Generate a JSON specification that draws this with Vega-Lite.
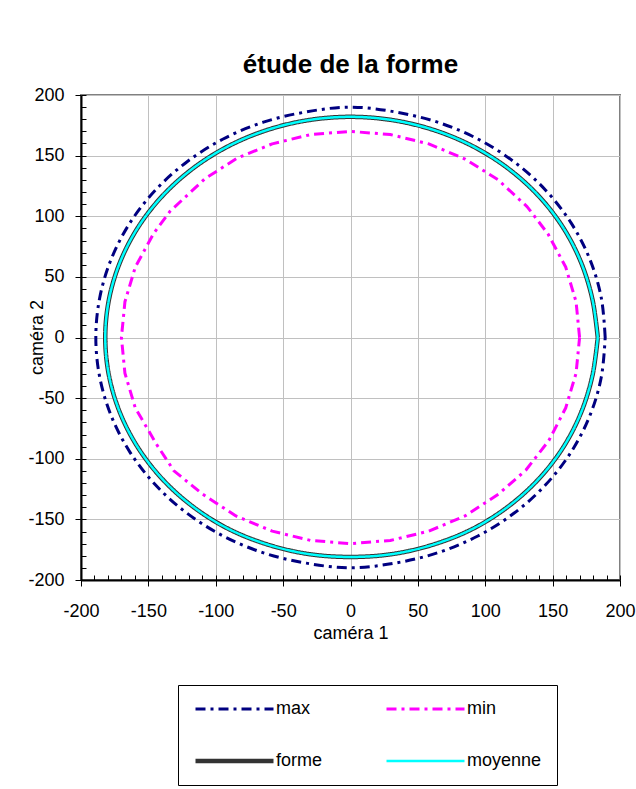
{
  "$schema": "https://vega.github.io/schema/vega-lite/v6.json",
  "width": 539,
  "height": 485,
  "autosize": {"type": "none"},
  "padding": {"left": 81, "top": 95, "right": 16, "bottom": 209},
  "background": "#ffffff",
  "title": {"text": "étude de la forme", "font": "Liberation Sans", "fontSize": 26, "fontWeight": "bold", "color": "#000000", "anchor": "middle", "frame": "group", "baseline": "alphabetic", "offset": -13},
  "config": {
    "view": {"stroke": "#808080", "strokeWidth": 2},
    "font": "Liberation Sans",
    "axis": {"labelFont": "Liberation Sans", "labelFontSize": 18, "labelColor": "#000000", "titleFont": "Liberation Sans", "titleFontSize": 18, "titleFontWeight": "normal", "titleColor": "#000000", "tickColor": "#000000", "domainColor": "#000000"},
    "legend": {"orient": "none", "legendX": 97, "legendY": 590, "columns": 2, "symbolType": "stroke", "symbolSize": 6084, "labelFont": "Liberation Sans", "labelFontSize": 18, "labelColor": "#000000", "labelOffset": 0, "columnPadding": 61, "rowPadding": 34, "clipHeight": 18, "padding": 15, "strokeColor": "#000000", "fillColor": "#ffffff", "labelLimit": 200}
  },
  "datasets": {"curves": [
    {"s":"max","i":0,"x":189,"y":0},{"s":"max","i":1,"x":186.1,"y":32.8},{"s":"max","i":2,"x":177.6,"y":64.6},{"s":"max","i":3,"x":163.7,"y":94.5},{"s":"max","i":4,"x":144.8,"y":121.5},{"s":"max","i":5,"x":121.5,"y":144.8},{"s":"max","i":6,"x":94.5,"y":163.7},{"s":"max","i":7,"x":64.6,"y":177.6},{"s":"max","i":8,"x":32.8,"y":186.1},{"s":"max","i":9,"x":0,"y":190},
    {"s":"max","i":10,"x":-32.8,"y":186.1},{"s":"max","i":11,"x":-64.6,"y":177.6},{"s":"max","i":12,"x":-94.5,"y":163.7},{"s":"max","i":13,"x":-121.5,"y":144.8},{"s":"max","i":14,"x":-144.8,"y":121.5},{"s":"max","i":15,"x":-163.7,"y":94.5},{"s":"max","i":16,"x":-177.6,"y":64.6},{"s":"max","i":17,"x":-186.1,"y":32.8},{"s":"max","i":18,"x":-189,"y":0},
    {"s":"max","i":19,"x":-186.1,"y":-32.8},{"s":"max","i":20,"x":-177.6,"y":-64.6},{"s":"max","i":21,"x":-163.7,"y":-94.5},{"s":"max","i":22,"x":-144.8,"y":-121.5},{"s":"max","i":23,"x":-121.5,"y":-144.8},{"s":"max","i":24,"x":-94.5,"y":-163.7},{"s":"max","i":25,"x":-64.6,"y":-177.6},{"s":"max","i":26,"x":-32.8,"y":-186.1},{"s":"max","i":27,"x":0,"y":-190},
    {"s":"max","i":28,"x":32.8,"y":-186.1},{"s":"max","i":29,"x":64.6,"y":-177.6},{"s":"max","i":30,"x":94.5,"y":-163.7},{"s":"max","i":31,"x":121.5,"y":-144.8},{"s":"max","i":32,"x":144.8,"y":-121.5},{"s":"max","i":33,"x":163.7,"y":-94.5},{"s":"max","i":34,"x":177.6,"y":-64.6},{"s":"max","i":35,"x":186.1,"y":-32.8},{"s":"max","i":36,"x":189,"y":0},

    {"s":"min","i":0,"x":170,"y":0},{"s":"min","i":1,"x":167.4,"y":29.5},{"s":"min","i":2,"x":159.7,"y":58.1},{"s":"min","i":3,"x":146.5,"y":85.5},{"s":"min","i":4,"x":131,"y":108},{"s":"min","i":5,"x":109.3,"y":130.2},{"s":"min","i":6,"x":85,"y":147.2},{"s":"min","i":7,"x":58.1,"y":159.7},{"s":"min","i":8,"x":29.5,"y":167.4},{"s":"min","i":9,"x":0,"y":170},
    {"s":"min","i":10,"x":-29.5,"y":167.4},{"s":"min","i":11,"x":-58.1,"y":159.7},{"s":"min","i":12,"x":-84,"y":148},{"s":"min","i":13,"x":-108,"y":131},{"s":"min","i":14,"x":-134,"y":104},{"s":"min","i":15,"x":-146,"y":86},{"s":"min","i":16,"x":-159.7,"y":58.1},{"s":"min","i":17,"x":-167.4,"y":29.5},{"s":"min","i":18,"x":-170,"y":0},
    {"s":"min","i":19,"x":-167.4,"y":-29.5},{"s":"min","i":20,"x":-159.7,"y":-58.1},{"s":"min","i":21,"x":-144,"y":-88},{"s":"min","i":22,"x":-131,"y":-110},{"s":"min","i":23,"x":-110,"y":-129},{"s":"min","i":24,"x":-85,"y":-147.2},{"s":"min","i":25,"x":-58.1,"y":-159.7},{"s":"min","i":26,"x":-29.5,"y":-167.4},{"s":"min","i":27,"x":0,"y":-170},
    {"s":"min","i":28,"x":29.5,"y":-167.4},{"s":"min","i":29,"x":58.1,"y":-159.7},{"s":"min","i":30,"x":85,"y":-147.2},{"s":"min","i":31,"x":110,"y":-129},{"s":"min","i":32,"x":130.2,"y":-109.3},{"s":"min","i":33,"x":147.2,"y":-85},{"s":"min","i":34,"x":159.7,"y":-58.1},{"s":"min","i":35,"x":167.4,"y":-29.5},{"s":"min","i":36,"x":170,"y":0},

    {"s":"forme","i":0,"x":183.5,"y":0},{"s":"forme","i":1,"x":179.5,"y":31.6},{"s":"forme","i":2,"x":171,"y":62.2},{"s":"forme","i":3,"x":157.6,"y":91},{"s":"forme","i":4,"x":139.4,"y":117},{"s":"forme","i":5,"x":117,"y":139.4},{"s":"forme","i":6,"x":91,"y":157.6},{"s":"forme","i":7,"x":62.2,"y":171},{"s":"forme","i":8,"x":31.6,"y":179.2},{"s":"forme","i":9,"x":0,"y":182},
    {"s":"forme","i":10,"x":-31.6,"y":179.2},{"s":"forme","i":11,"x":-62.2,"y":171},{"s":"forme","i":12,"x":-91,"y":157.6},{"s":"forme","i":13,"x":-117,"y":139.4},{"s":"forme","i":14,"x":-139.4,"y":117},{"s":"forme","i":15,"x":-157.6,"y":91},{"s":"forme","i":16,"x":-171,"y":62.2},{"s":"forme","i":17,"x":-179.2,"y":31.6},{"s":"forme","i":18,"x":-182,"y":0},
    {"s":"forme","i":19,"x":-179.2,"y":-31.6},{"s":"forme","i":20,"x":-171,"y":-62.2},{"s":"forme","i":21,"x":-157.6,"y":-91},{"s":"forme","i":22,"x":-139.4,"y":-117},{"s":"forme","i":23,"x":-117,"y":-139.4},{"s":"forme","i":24,"x":-91,"y":-157.6},{"s":"forme","i":25,"x":-62.2,"y":-170.5},{"s":"forme","i":26,"x":-31.6,"y":-178.5},{"s":"forme","i":27,"x":0,"y":-181},
    {"s":"forme","i":28,"x":31.6,"y":-178.5},{"s":"forme","i":29,"x":62.2,"y":-170.5},{"s":"forme","i":30,"x":91,"y":-157.6},{"s":"forme","i":31,"x":117,"y":-139.4},{"s":"forme","i":32,"x":139.4,"y":-117},{"s":"forme","i":33,"x":157.6,"y":-91},{"s":"forme","i":34,"x":171,"y":-62.2},{"s":"forme","i":35,"x":179.5,"y":-31.6},{"s":"forme","i":36,"x":183.5,"y":0},

    {"s":"moyenne","i":0,"x":183.5,"y":0},{"s":"moyenne","i":1,"x":179.5,"y":31.6},{"s":"moyenne","i":2,"x":171,"y":62.2},{"s":"moyenne","i":3,"x":157.6,"y":91},{"s":"moyenne","i":4,"x":139.4,"y":117},{"s":"moyenne","i":5,"x":117,"y":139.4},{"s":"moyenne","i":6,"x":91,"y":157.6},{"s":"moyenne","i":7,"x":62.2,"y":171},{"s":"moyenne","i":8,"x":31.6,"y":179.2},{"s":"moyenne","i":9,"x":0,"y":182},
    {"s":"moyenne","i":10,"x":-31.6,"y":179.2},{"s":"moyenne","i":11,"x":-62.2,"y":171},{"s":"moyenne","i":12,"x":-91,"y":157.6},{"s":"moyenne","i":13,"x":-117,"y":139.4},{"s":"moyenne","i":14,"x":-139.4,"y":117},{"s":"moyenne","i":15,"x":-157.6,"y":91},{"s":"moyenne","i":16,"x":-171,"y":62.2},{"s":"moyenne","i":17,"x":-179.2,"y":31.6},{"s":"moyenne","i":18,"x":-182,"y":0},
    {"s":"moyenne","i":19,"x":-179.2,"y":-31.6},{"s":"moyenne","i":20,"x":-171,"y":-62.2},{"s":"moyenne","i":21,"x":-157.6,"y":-91},{"s":"moyenne","i":22,"x":-139.4,"y":-117},{"s":"moyenne","i":23,"x":-117,"y":-139.4},{"s":"moyenne","i":24,"x":-91,"y":-157.6},{"s":"moyenne","i":25,"x":-62.2,"y":-170.5},{"s":"moyenne","i":26,"x":-31.6,"y":-178.5},{"s":"moyenne","i":27,"x":0,"y":-181},
    {"s":"moyenne","i":28,"x":31.6,"y":-178.5},{"s":"moyenne","i":29,"x":62.2,"y":-170.5},{"s":"moyenne","i":30,"x":91,"y":-157.6},{"s":"moyenne","i":31,"x":117,"y":-139.4},{"s":"moyenne","i":32,"x":139.4,"y":-117},{"s":"moyenne","i":33,"x":157.6,"y":-91},{"s":"moyenne","i":34,"x":171,"y":-62.2},{"s":"moyenne","i":35,"x":179.5,"y":-31.6},{"s":"moyenne","i":36,"x":183.5,"y":0}
  ]},
  "data": {"name": "curves"},
  "encoding": {
    "x": {"field": "x", "type": "quantitative", "scale": {"domain": [-200, 200], "nice": false, "zero": false}, "axis": null},
    "y": {"field": "y", "type": "quantitative", "scale": {"domain": [-200, 200], "nice": false, "zero": false}, "axis": null},
    "order": {"field": "i", "type": "quantitative"},
    "color": {"field": "s", "type": "nominal", "title": null, "scale": {"domain": ["max", "forme", "min", "moyenne"], "range": ["#000080", "#333333", "#ff00ff", "#00ffff"]}},
    "strokeDash": {"field": "s", "type": "nominal", "title": null, "scale": {"domain": ["max", "forme", "min", "moyenne"], "range": [[10, 5, 3, 5], [1, 0], [10, 5, 3, 5], [1, 0]]}},
    "strokeWidth": {"field": "s", "type": "nominal", "title": null, "scale": {"type": "ordinal", "domain": ["max", "forme", "min", "moyenne"], "range": [3, 4.5, 3, 2.5]}}
  },
  "layer": [
    {
      "transform": [{"filter": "datum.s === 'max'"}],
      "mark": {"type": "line", "strokeCap": "butt", "strokeJoin": "round", "interpolate": "cardinal"},
      "encoding": {
        "x": {"field": "x", "type": "quantitative",
          "axis": {"orient": "bottom", "values": [-200,-190,-180,-170,-160,-150,-140,-130,-120,-110,-100,-90,-80,-70,-60,-50,-40,-30,-20,-10,0,10,20,30,40,50,60,70,80,90,100,110,120,130,140,150,160,170,180,190,200], "tickSize": -5, "labels": false, "domain": false, "grid": false, "title": null}},
        "y": {"field": "y", "type": "quantitative",
          "axis": {"orient": "left", "values": [-200,-190,-180,-170,-160,-150,-140,-130,-120,-110,-100,-90,-80,-70,-60,-50,-40,-30,-20,-10,0,10,20,30,40,50,60,70,80,90,100,110,120,130,140,150,160,170,180,190,200], "tickSize": -5, "labels": false, "domain": false, "grid": false, "title": null}}
      }
    },
    {
      "transform": [{"filter": "datum.s === 'min'"}],
      "mark": {"type": "line", "strokeCap": "butt", "strokeJoin": "round"}
    },
    {
      "transform": [{"filter": "datum.s === 'forme'"}],
      "mark": {"type": "line", "strokeCap": "butt", "strokeJoin": "round", "interpolate": "cardinal"}
    },
    {
      "transform": [{"filter": "datum.s === 'moyenne'"}],
      "mark": {"type": "line", "strokeCap": "butt", "strokeJoin": "round", "interpolate": "cardinal"},
      "encoding": {
        "x": {"field": "x", "type": "quantitative",
          "axis": {"orient": "bottom", "values": [-200,-150,-100,-50,0,50,100,150,200], "labelExpr": "'' + datum.value", "tickSize": 6, "domainWidth": 2, "grid": true, "gridColor": "#c0c0c0", "gridWidth": 1, "gridOpacity": 1, "labelPadding": 16, "labelFlush": false, "labelOverlap": false, "title": "caméra 1", "titlePadding": 4}},
        "y": {"field": "y", "type": "quantitative",
          "axis": {"orient": "left", "values": [-200,-150,-100,-50,0,50,100,150,200], "labelExpr": "'' + datum.value", "tickSize": 6, "domainWidth": 2, "grid": true, "gridColor": "#c0c0c0", "gridWidth": 1, "gridOpacity": 1, "labelPadding": 11, "labelFlush": false, "labelOverlap": false, "title": "caméra 2", "titleX": -44, "titleY": 242, "titleAngle": 270, "titleBaseline": "middle", "titleAlign": "center"}}
      }
    }
  ],
  "resolve": {"axis": {"x": "independent", "y": "independent"}}
}
